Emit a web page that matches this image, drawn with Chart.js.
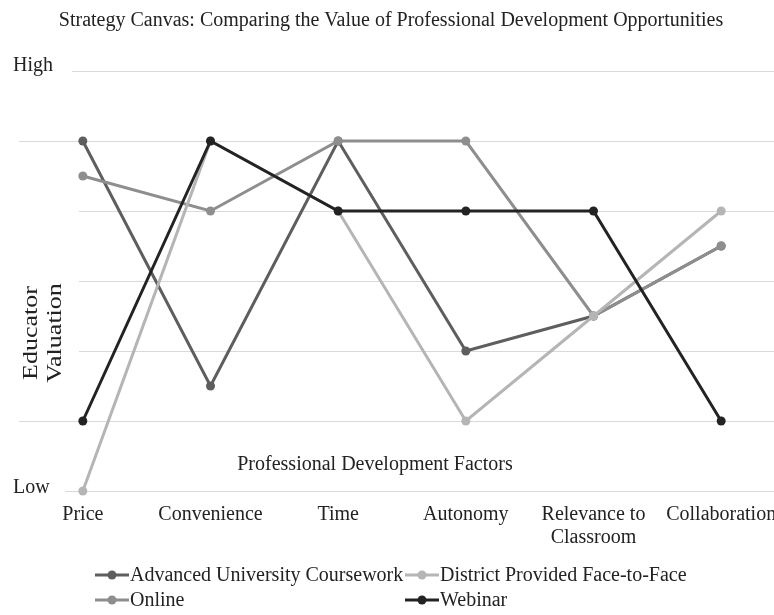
<!DOCTYPE html>
<html>
<head>
<meta charset="utf-8">
<script src="https://cdn.jsdelivr.net/npm/chart.js@4/dist/chart.umd.min.js"></script>
<style>
html,body{margin:0;padding:0;background:#fff;overflow:hidden;width:774px;height:615px;}
#wrap{width:800px;height:615px;}
</style>
</head>
<body>
<div id="wrap"><canvas id="c" width="800" height="615"></canvas></div>
<script>
const categories = ["Price", "Convenience", "Time", "Autonomy", ["Relevance to", "Classroom"], "Collaboration"];
const advancedUniversity = [5, 1.5, 5, 2, 2.5, 3.5];
const districtFaceToFace = [0, 5, 4, 1, 2.5, 4];
const online = [4.5, 4, 5, 5, 2.5, 3.5];
const webinar = [1, 5, 4, 4, 4, 1];
const seriesNames = ["Advanced University Coursework", "District Provided Face-to-Face", "Online", "Webinar"];
const seriesColors = ["#5e5e5e", "#b5b5b5", "#8e8e8e", "#232323"];
const yTickLabels = {6: "High", 0: "Low"};
const chartTitle = "Strategy Canvas: Comparing the Value of Professional Development Opportunities";
const xTitle = "Professional Development Factors";
const yTitle = ["Educator", "Valuation"];

const FONT = '"Liberation Serif", "Times New Roman", serif';
const TXT = '#222';

function ds(i, data, order) {
  return {
    label: seriesNames[i], data: data, order: order,
    borderColor: seriesColors[i], backgroundColor: seriesColors[i],
    pointBackgroundColor: seriesColors[i], pointBorderWidth: 0,
    pointRadius: 4.5, borderWidth: 3, tension: 0, clip: false
  };
}

const decor = {
  id: 'decor',
  beforeDatasetsDraw(chart) {
    const ctx = chart.ctx, y = chart.scales.y;
    ctx.save();
    ctx.fillStyle = '#fff';
    ctx.fillRect(0, y.getPixelForValue(6) - 12, 72, 24);
    ctx.fillRect(0, y.getPixelForValue(0) - 12, 65, 24);
    ctx.fillRect(0, 190, 79, 210);
    ctx.fillStyle = TXT;
    ctx.font = '20px ' + FONT;
    ctx.textAlign = 'left';
    ctx.textBaseline = 'alphabetic';
    ctx.fillText(yTickLabels[6], 13, y.getPixelForValue(6));
    ctx.fillText(yTickLabels[0], 13, y.getPixelForValue(0) + 2);
    ctx.save();
    ctx.translate(44, 333);
    ctx.rotate(-Math.PI / 2);
    ctx.scale(1.3, 1);
    ctx.textAlign = 'center';
    ctx.textBaseline = 'middle';
    ctx.fillText(yTitle[0], 0, -12);
    ctx.fillText(yTitle[1], 0, 12);
    ctx.restore();
    ctx.textAlign = 'center';
    ctx.fillText(xTitle, 375, 470);
    ctx.restore();
  },
  afterDraw(chart) {
    const ctx = chart.ctx;
    ctx.save();
    ctx.fillStyle = TXT;
    ctx.font = '20px ' + FONT;
    ctx.textAlign = 'center';
    ctx.textBaseline = 'alphabetic';
    ctx.fillText(chartTitle, 391, 26);
    const pos = [[95, 575], [405, 575], [95, 600], [405, 600]];
    ctx.textAlign = 'left';
    ctx.textBaseline = 'middle';
    for (let i = 0; i < 4; i++) {
      const [x, yy] = pos[i];
      ctx.strokeStyle = seriesColors[i];
      ctx.lineWidth = 3;
      ctx.beginPath(); ctx.moveTo(x, yy); ctx.lineTo(x + 34, yy); ctx.stroke();
      ctx.fillStyle = seriesColors[i];
      ctx.beginPath(); ctx.arc(x + 17, yy, 4.5, 0, Math.PI * 2); ctx.fill();
      ctx.fillStyle = TXT;
      ctx.fillText(seriesNames[i], x + 35, yy + 1);
    }
    ctx.restore();
  }
};

new Chart(document.getElementById('c'), {
  type: 'line',
  data: {
    labels: categories,
    datasets: [
      ds(0, advancedUniversity, 3),
      ds(1, districtFaceToFace, 1),
      ds(2, online, 2),
      ds(3, webinar, 0)
    ]
  },
  options: {
    responsive: false,
    animation: false,
    devicePixelRatio: 1,
    layout: { padding: { left: 19, right: 15, top: 71, bottom: 0 } },
    plugins: { legend: { display: false }, title: { display: false }, tooltip: { enabled: false } },
    scales: {
      x: {
        offset: true,
        grid: { display: false, drawTicks: false },
        border: { display: false },
        ticks: { color: TXT, font: { family: FONT, size: 20, lineHeight: 1.15 }, padding: 12, maxRotation: 0, autoSkip: false },
        afterFit(s) { s.height = 124; }
      },
      y: {
        min: 0, max: 6,
        ticks: { stepSize: 1, display: false },
        grid: { color: '#d9d9d9', lineWidth: 1, drawTicks: false },
        border: { display: false },
        afterFit(s) { s.width = 0; }
      }
    }
  },
  plugins: [decor]
});
</script>
</body>
</html>
